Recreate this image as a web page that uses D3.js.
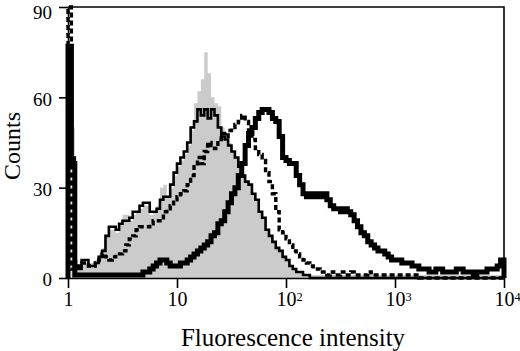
<!DOCTYPE html>
<html lang="en">
<head>
<meta charset="UTF-8">
<title>Fluorescence histogram</title>
<script src="https://d3js.org/d3.v7.min.js"></script>
<style>
    body{
        margin:0;
        background:#fff;
    }
    .chart text{
        font-family:"Liberation Serif","Times New Roman",serif;
        fill:#000;
    }
</style>
</head>
<body>
<svg class="chart" width="520" height="351"></svg>
<script>
// tick values / labels
const xTicks=[1,10,100,1000,10000];
const xTickBase=['1','10','10','10','10'];
const xTickExp=['','','2','3','4'];
const yTicks=[0,30,60,90];

// counts per channel, 128 channels over 4 decades
const grayCounts=[
    0,50,6,4,5,5,5,5,6,8,10,14,16,16,15,18,
    21,21,19,21,22,23,24,24,21,22,24,30,31,27,30,34,
    37,39,41,44,49,58,62,66,75,68,60,58,57,50,48,45,
    42,40,37,34,32,31,28,26,22,20,16,14,12,10,9,7,
    6,4,3,2,2,1,1,1,1,1,1,1,1,1,1,1,
    1,1,1,1,1,1,1,1,1,1,1,1,1,1,1,1,
    1,1,1,1,1,1,1,1,1,1,1,1,1,1,1,1,
    1,1,1,1,1,1,1,1,1,1,1,1,1,1,1,1
];
const outlineCounts=[
    40,40,3,3,6,6,4,4,5,7,9,14,17,17,16,18,
    19,19,20,22,22,24,25,25,22,22,23,26,27,27,31,35,
    38,40,42,45,50,52,56,54,56,53,56,54,50,47,46,44,
    42,40,37,34,32,31,28,26,22,20,16,14,12,10,9,7,
    6,4,3,2,2,1,1,0,0,0,0,0,0,0,0,0,
    0,0,0,0,0,0,0,0,0,0,0,0,0,0,0,0,
    0,0,0,0,0,0,0,0,0,0,0,0,0,0,0,0,
    0,0,0,0,0,0,0,0,0,0,0,0,0,0,0,0
];
const dashedCounts=[
    90,3,3,4,5,5,4,4,5,6,8,7,6,7,8,8,
    9,11,13,14,16,17,17,17,18,19,19,20,22,23,24,26,
    27,28,29,31,34,37,40,38,42,45,44,43,46,48,47,49,
    50,51,52,54,52,49,46,43,41,39,35,32,28,22,16,15,
    13,11,9,8,7,6,5,4,3,3,2,2,1,2,1,1,
    2,1,1,2,1,1,1,1,2,1,1,1,1,1,1,1,
    1,1,1,1,1,1,1,0,0,0,0,0,0,0,0,0,
    0,0,0,0,0,0,0,0,0,0,0,0,0,0,0,0
];
const thickCounts=[
    77,38,1,1,1,1,1,1,1,1,1,1,1,1,1,1,
    1,1,1,1,1,1,2,2,3,4,5,6,6,5,4,4,
    4,5,5,6,7,8,9,10,11,12,14,15,18,19,22,25,
    28,30,34,38,44,48,50,53,55,56,56,55,53,52,47,40,
    39,38,38,34,31,28,27,28,27,28,27,28,26,24,23,23,
    22,23,22,21,19,17,15,14,12,11,10,9,9,8,7,6,
    6,6,5,5,5,4,4,3,3,3,2,2,3,3,2,2,
    2,2,3,3,2,2,2,1,2,2,2,3,3,3,4,6
];

const margin={top:7,right:16,bottom:73,left:68};
const width=520-margin.left-margin.right;
const height=351-margin.top-margin.bottom;

const x=d3.scaleLog().domain([1,10000]).range([0,width]);
const y=d3.scaleLinear().domain([0,90]).range([height,0]);

const n=grayCounts.length;
const edges=d3.range(n+1).map(i=>Math.pow(10,4*i/n));

// step outline of a histogram
function stepPoints(counts){
    const pts=[[edges[0],0]];
    counts.forEach((c,i)=>pts.push([edges[i],c]));
    pts.push([edges[n],counts[n-1]]);
    pts.push([edges[n],0]);
    return pts;
}

const line=d3.line().x(d=>x(d[0])).y(d=>y(d[1])).curve(d3.curveStepAfter);
const area=d3.area().x(d=>x(d[0])).y0(y(0)).y1(d=>y(d[1])).curve(d3.curveStepAfter);

const chart=d3.select('.chart')
    .append('g')
    .attr('transform','translate('+margin.left+','+margin.top+')');

chart.append('path')
    .attr('d',area(stepPoints(grayCounts)))
    .attr('fill','#cbcbcb');

chart.append('path')
    .attr('d',line(stepPoints(outlineCounts)))
    .attr('fill','none')
    .attr('stroke','#000')
    .attr('stroke-width',2.6)
    .attr('stroke-linejoin','miter');

chart.append('path')
    .attr('d',line(stepPoints(dashedCounts)))
    .attr('fill','none')
    .attr('stroke','#000')
    .attr('stroke-width',3.4)
    .attr('stroke-dasharray','5 3');

chart.append('path')
    .attr('d',line(stepPoints(thickCounts)))
    .attr('fill','none')
    .attr('stroke','#000')
    .attr('stroke-width',5)
    .attr('stroke-linejoin','miter');

// frame top and right
chart.append('path')
    .attr('d','M0,'+y(90)+'H'+width+'V'+height)
    .attr('fill','none')
    .attr('stroke','#000')
    .attr('stroke-width',1.6);

const yAxis=d3.axisLeft(y).tickValues(yTicks).tickSize(9).tickSizeOuter(0).tickPadding(7);
const xAxis=d3.axisBottom(x).tickValues(xTicks).tickSize(10).tickSizeOuter(0).tickPadding(4);

const gy=chart.append('g').call(yAxis)
    .attr('font-family',null).attr('font-size',19);
// top label nudged down so it stays inside the page
gy.selectAll('.tick text').attr('dy',d=>d===90?'0.6em':'0.42em');
const gx=chart.append('g')
    .attr('transform','translate(0,'+height+')')
    .call(xAxis)
    .attr('font-family',null).attr('font-size',20);

[gx,gy].forEach(g=>{
    g.selectAll('path,line').attr('stroke','#000').attr('stroke-width',1.6);
});

gx.selectAll('.tick text').each(function(d,i){
    const t=d3.select(this);
    if(!xTickExp[i]){
        t.text(xTickBase[i]);
    }else{
        t.text(null).attr('text-anchor','start').attr('x',-10);
        t.append('tspan').text(xTickBase[i]);
        t.append('tspan').attr('dy','-0.42em').attr('font-size','0.62em').text(xTickExp[i]);
    }
});

d3.select('.chart').append('text')
    .attr('x',293)
    .attr('y',346)
    .attr('text-anchor','middle')
    .attr('font-size',25)
    .text('Fluorescence intensity');

d3.select('.chart').append('text')
    .attr('transform','translate(20,146) rotate(-90)')
    .attr('text-anchor','middle')
    .attr('font-size',24)
    .text('Counts');
</script>
</body>
</html>
